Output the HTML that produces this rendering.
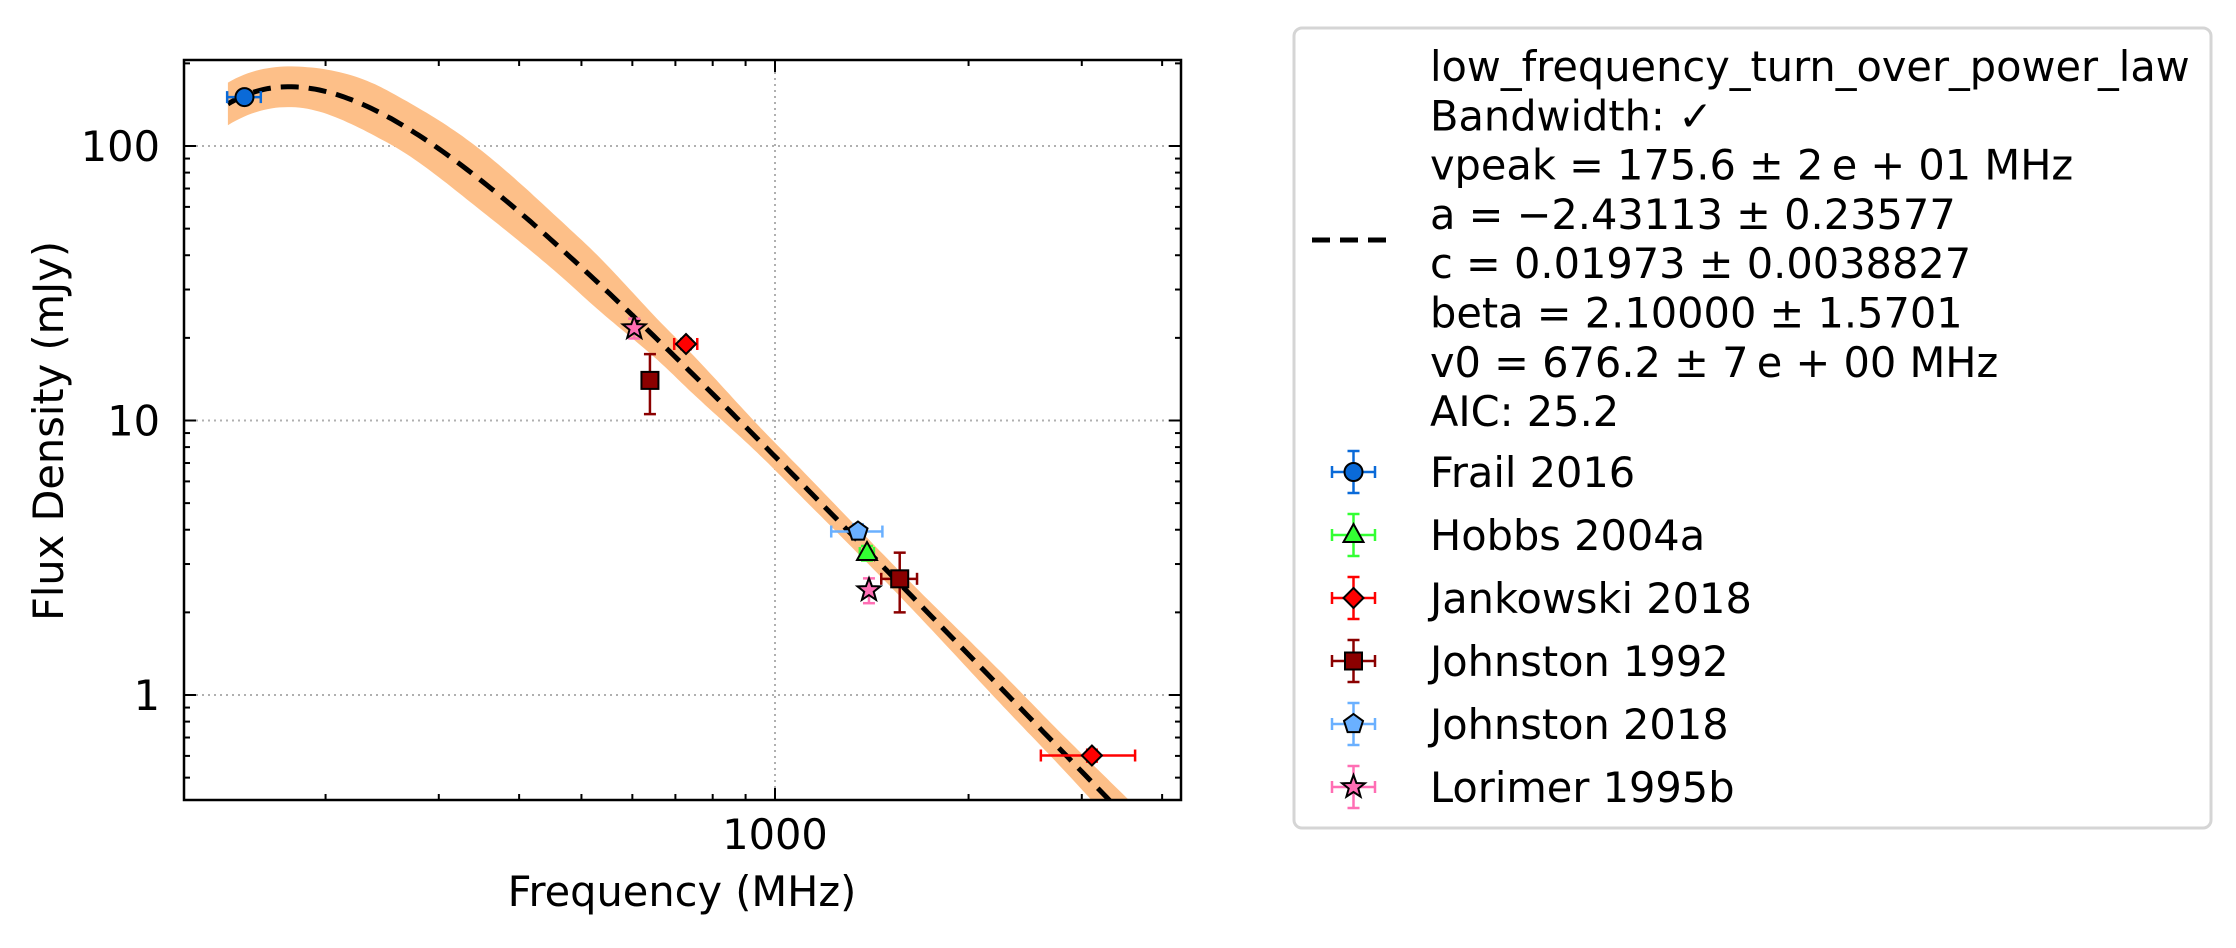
<!DOCTYPE html>
<html><head><meta charset="utf-8"><style>
html,body{margin:0;padding:0;background:#fff;}
svg text{font-family:"DejaVu Sans","Liberation Sans",sans-serif;}
</style></head><body>
<svg id="chart" width="2236" height="943" viewBox="0 0 2236 943" xmlns="http://www.w3.org/2000/svg">
<defs><clipPath id="pc"><rect x="184" y="60" width="997" height="740"/></clipPath></defs>
<rect x="0" y="0" width="2236" height="943" fill="#fff"/>
<g id="grid"></g>
<g id="band" clip-path="url(#pc)"></g>
<g id="fit" clip-path="url(#pc)"></g>
<g id="points"></g>
<g id="axes"></g>
<text x="682" y="906" font-size="41.5" text-anchor="middle">Frequency (MHz)</text>
<text x="0" y="0" font-size="41.5" text-anchor="middle" transform="translate(63,431) rotate(-90)">Flux Density (mJy)</text>
<g id="legend"></g>
</svg>
<script>
// ---- data ----
const seriesNames = ["Frail 2016","Hobbs 2004a","Jankowski 2018","Johnston 1992","Johnston 2018","Lorimer 1995b"];
const seriesColors = ["#0a6ad8","#33ff33","#ff0000","#8b0000","#6ab0ff","#ff6eb4"];
const seriesMarkers = ["circle","triangle","diamond","square","pentagon","star"];
const pointSeries = [0,5,2,3,4,1,5,3,2];
const pointFreq   = [149.6,604,727,639,1346,1390,1400,1563,3111];
const pointFlux   = [150.7,21.7,19.0,14.0,3.94,3.29,2.41,2.65,0.602];
const pointFreqErr= [9,0,30,0,123,35,0,100,520];
const pointFluxErr= [6,1.8,0.8,3.45,0.25,0.2,0.25,0.65,0.03];
const fitParams = {vpeak:175.6,a:-2.43113,c:19.73,beta:2.1,v0:676.2};
const bandFreq = [120,175,250,350,500,700,1000,1500,2500,4300];
const bandHalfDex = [0.08,0.074,0.095,0.11,0.1,0.072,0.05,0.045,0.06,0.08];
const yTicks = [1,10,100];
const yTickLabels = ["1","10","100"];
const xTicks = [1000];
const xTickLabels = ["1000"];
const legendLines = ["low_frequency_turn_over_power_law","Bandwidth: \u2713","vpeak = 175.6 \u00b1 2\u2009e + 01 MHz","a = \u22122.43113 \u00b1 0.23577","c = 0.01973 \u00b1 0.0038827","beta = 2.10000 \u00b1 1.5701","v0 = 676.2 \u00b1 7\u2009e + 00 MHz","AIC: 25.2"];

// ---- axes ----
const L=184,R=1181,T=60,B=800;
const X0=775, XD=643, Y0=695, YD=274.5;
const xs=f=>X0+(Math.log10(f)-3)*XD;
const ys=s=>Y0-Math.log10(s)*YD;
const NS="http://www.w3.org/2000/svg";
function mk(tag,attrs,parent){const e=document.createElementNS(NS,tag);for(const k in attrs)e.setAttribute(k,attrs[k]);parent.appendChild(e);return e;}
const grid=document.getElementById('grid'), axes=document.getElementById('axes');
yTicks.forEach((v,i)=>{
  const g=mk('line',{x1:L,x2:R,y1:ys(v),y2:ys(v),stroke:'#b0b0b0','stroke-width':2,'stroke-dasharray':'2,4'},grid);
  
  
  const t=mk('text',{x:160,y:ys(v)+15,'font-size':41.5,'text-anchor':'end'},axes);
  t.textContent=yTickLabels[i];
  
  
});
xTicks.forEach((v,i)=>{
  const g=mk('line',{x1:xs(v),x2:xs(v),y1:T,y2:B,stroke:'#b0b0b0','stroke-width':2,'stroke-dasharray':'2,4'},grid);
  
  
  const t=mk('text',{x:xs(v),y:849,'font-size':41.5,'text-anchor':'middle'},axes);
  t.textContent=xTickLabels[i];
  
  
});
function tick(x1,y1,x2,y2,w){mk('line',{x1,y1,x2,y2,stroke:'#000','stroke-width':w},axes);}
for(let d=-1;d<=2;d++){for(let m=1;m<10;m++){const v=m*Math.pow(10,d);const y=ys(v);if(y<T||y>B)continue;const len=m===1?12:6;
  tick(L,y,L+len,y,2);tick(R,y,R-len,y,2);}}
for(let d=2;d<=3;d++){for(let m=1;m<10;m++){const v=m*Math.pow(10,d);const x=xs(v);if(x<L||x>R)continue;const len=m===1?12:6;
  tick(x,B,x,B-len,2);tick(x,T,x,T+len,2);}}
const fr=mk('rect',{x:L,y:T,width:R-L,height:B-T,fill:'none',stroke:'#000','stroke-width':2.5},axes);



// ---- model ----
function model(v){const p=fitParams;return p.c*Math.pow(v/p.v0,p.a)*Math.exp(p.a/p.beta*Math.pow(v/p.vpeak,-p.beta));}
function halfDex(v){const lv=Math.log10(v);for(let i=0;i<bandFreq.length-1;i++){const a=Math.log10(bandFreq[i]),b=Math.log10(bandFreq[i+1]);if(lv<=b){let t=(lv-a)/(b-a);t=(1-Math.cos(Math.PI*t))/2;return bandHalfDex[i]+t*(bandHalfDex[i+1]-bandHalfDex[i]);}}return bandHalfDex[bandHalfDex.length-1];}
const fmin=141,fmax=4300,N=240;let up=[],dn=[],ln=[];
for(let i=0;i<=N;i++){const v=fmin*Math.pow(fmax/fmin,i/N);const s=model(v);const h=halfDex(v);const x=xs(v);
  ln.push(x.toFixed(1)+','+ys(s).toFixed(1));up.push(x.toFixed(1)+','+(ys(s)-h*YD).toFixed(1));dn.unshift(x.toFixed(1)+','+(ys(s)+h*YD).toFixed(1));}
mk('polygon',{points:up.concat(dn).join(' '),fill:'#fdbf88'},document.getElementById('band'));
mk('polyline',{points:ln.join(' '),fill:'none',stroke:'#000','stroke-width':5,'stroke-dasharray':'18,10'},document.getElementById('fit'));

// ---- markers ----
function marker(type,cx,cy,color,parent){
  const st={fill:color,stroke:'#000','stroke-width':2};let e;
  if(type==='circle')e=mk('circle',Object.assign({cx,cy,r:9},st),parent);
  else if(type==='square')e=mk('rect',Object.assign({x:cx-8.5,y:cy-8.5,width:17,height:17},st),parent);
  else{let pts=[];
    if(type==='triangle')pts=[[0,-11],[10,7],[-10,7]];
    else if(type==='diamond')pts=[[0,-10],[10,0],[0,10],[-10,0]];
    else if(type==='pentagon'){for(let k=0;k<5;k++){const a=-Math.PI/2+k*2*Math.PI/5;pts.push([10*Math.cos(a),10*Math.sin(a)]);}}
    else if(type==='star'){for(let k=0;k<10;k++){const a=-Math.PI/2+k*Math.PI/5;const r=k%2?5:12;pts.push([r*Math.cos(a),r*Math.sin(a)]);}}
    e=mk('polygon',Object.assign({points:pts.map(p=>(cx+p[0]).toFixed(1)+','+(cy+p[1]).toFixed(1)).join(' ')},st),parent);}
  return e;
}
function errbar(x1,y1,x2,y2,color,horiz,parent,c){
  c=c||4;
  mk('line',{x1,y1,x2,y2,stroke:color,'stroke-width':2.5},parent);
  if(horiz){mk('line',{x1:x1,y1:y1-c,x2:x1,y2:y1+c,stroke:color,'stroke-width':2.5},parent);mk('line',{x1:x2,y1:y2-c,x2:x2,y2:y2+c,stroke:color,'stroke-width':2.5},parent);}
  else{mk('line',{x1:x1-c,y1:y1,x2:x1+c,y2:y1,stroke:color,'stroke-width':2.5},parent);mk('line',{x1:x2-c,y1:y2,x2:x2+c,y2:y2,stroke:color,'stroke-width':2.5},parent);}
}
const pg=document.getElementById('points');
pointFreq.forEach((f,i)=>{
  const si=pointSeries[i],col=seriesColors[si];
  const g=mk('g',{},pg);
  
  
  const x=xs(f),y=ys(pointFlux[i]);
  if(pointFreqErr[i]>0)errbar(xs(f-pointFreqErr[i]),y,xs(f+pointFreqErr[i]),y,col,true,g,6);
  if(pointFluxErr[i]>0)errbar(x,ys(pointFlux[i]+pointFluxErr[i]),x,ys(pointFlux[i]-pointFluxErr[i]),col,false,g,6);
  marker(seriesMarkers[si],x,y,col,g);
});

// ---- legend ----
const lg=document.getElementById('legend');
const box=mk('rect',{x:1294,y:28,width:917,height:800,rx:8,fill:'#fff',stroke:'#d5d5d5','stroke-width':3},lg);


const fitEntry=mk('g',{},lg);


mk('line',{x1:1312,y1:240,x2:1396,y2:240,stroke:'#000','stroke-width':5,'stroke-dasharray':'18,10'},fitEntry);
legendLines.forEach((s,i)=>{const t=mk('text',{x:1430,y:81+i*49.3,'font-size':41.5},fitEntry);t.textContent=s;});
seriesNames.forEach((n,i)=>{
  const y=472+i*63, col=seriesColors[i];
  const g=mk('g',{},lg);
  
  
  errbar(1332,y,1375,y,col,true,g,6);
  errbar(1353.5,y-21,1353.5,y+21,col,false,g,6);
  marker(seriesMarkers[i],1353.5,y,col,g);
  const t=mk('text',{x:1430,y:y+15,'font-size':41.5},g);t.textContent=n;
});
</script>
</body></html>
